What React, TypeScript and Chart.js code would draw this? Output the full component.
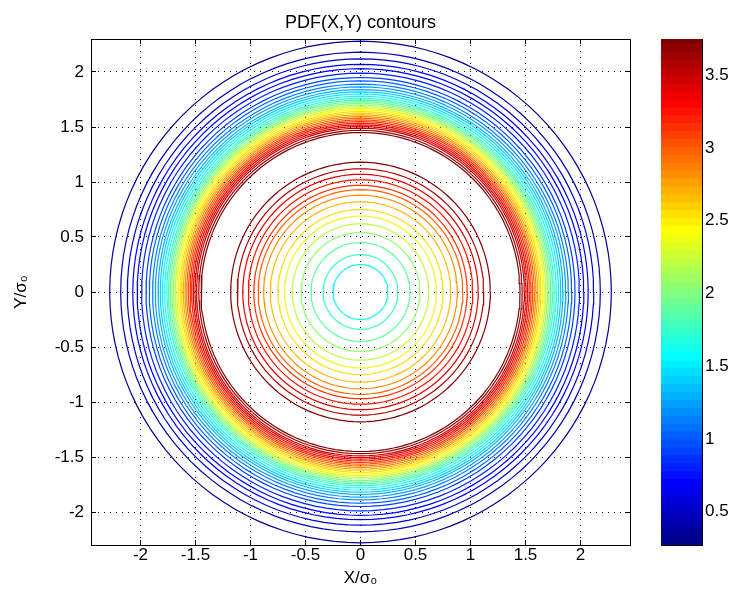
import React, { useEffect, useRef } from "react";
import { Chart, registerables } from "chart.js";

Chart.register(...registerables);

// ---------- data ----------
const TITLE = "PDF(X,Y) contours";
const X_LABEL = "X/σ₀";
const Y_LABEL = "Y/σ₀";
const X_TICKS = [-2, -1.5, -1, -0.5, 0, 0.5, 1, 1.5, 2];
const Y_TICKS = [-2, -1.5, -1, -0.5, 0, 0.5, 1, 1.5, 2];
const X_RANGE = [-2.45, 2.45];
const Y_RANGE = [-2.3, 2.3];
const CBAR_TICKS = [0.5, 1, 1.5, 2, 2.5, 3, 3.5];
const CBAR_RANGE = [0.27, 3.75];

// contour lines inside the ring maximum (level -> radius)
const INNER_LEVELS = [1.6, 1.75, 1.9, 2.05, 2.2, 2.35, 2.5, 2.65, 2.8, 2.95, 3.1, 3.25, 3.4, 3.55, 3.7];
const INNER_RADII = [0.25, 0.34, 0.45, 0.54, 0.62, 0.69, 0.75, 0.82, 0.88, 0.93, 0.97, 1.02, 1.07, 1.12, 1.18];

// contour lines outside the ring maximum (level -> radius)
const OUTER_LEVELS = [
  3.7, 3.6, 3.5, 3.4, 3.3, 3.2, 3.1, 3.0, 2.9, 2.8, 2.7, 2.6, 2.5, 2.4, 2.3, 2.2, 2.1, 2.0,
  1.9, 1.8, 1.7, 1.6, 1.5, 1.4, 1.3, 1.2, 1.1, 1.0, 0.9, 0.8, 0.7, 0.6, 0.5, 0.4, 0.3,
];
const OUTER_RADII = [
  1.45, 1.47, 1.49, 1.505, 1.52, 1.535, 1.55, 1.565, 1.58, 1.595, 1.61, 1.625, 1.64, 1.655, 1.67, 1.685, 1.7, 1.715,
  1.73, 1.745, 1.76, 1.78, 1.8, 1.82, 1.84, 1.865, 1.89, 1.92, 1.95, 1.99, 2.03, 2.07, 2.12, 2.18, 2.28,
];

// ---------- styling helpers ----------
const FONT = '"Liberation Sans", Arial, Helvetica, sans-serif';
const N_COLORS = 64;

function jet(i: number): string {
  // MATLAB jet(64), i = 1..64
  const u = (k: number) => (k <= 16 ? k / 16 : k <= 31 ? 1 : (48 - k) / 16);
  const r = i >= 25 ? u(i - 24) : 0;
  const g = i >= 9 && i <= 55 ? u(i - 8) : 0;
  const b = i <= 39 ? u(i + 8) : 0;
  return `rgb(${Math.round(r * 255)},${Math.round(g * 255)},${Math.round(b * 255)})`;
}

function levelColor(v: number): string {
  const t = (v - CBAR_RANGE[0]) / (CBAR_RANGE[1] - CBAR_RANGE[0]);
  const idx = Math.min(N_COLORS, Math.max(1, Math.floor(t * N_COLORS) + 1));
  return jet(idx);
}

const SEGMENTS = 120;
function circlePoints(r: number) {
  const pts: { x: number; y: number }[] = [];
  for (let k = 0; k <= SEGMENTS; k++) {
    const a = (2 * Math.PI * k) / SEGMENTS;
    pts.push({ x: r * Math.cos(a), y: r * Math.sin(a) });
  }
  return pts;
}

const gridBase = {
  color: "#000",
  lineWidth: 1,
  drawTicks: true,
  tickLength: -5,
  tickColor: "#000",
  tickWidth: 1,
};

export default function App() {
  const mainRef = useRef<HTMLCanvasElement>(null);
  const barRef = useRef<HTMLCanvasElement>(null);

  useEffect(() => {
    const tickFont = { family: FONT, size: 17 };
    const contourSets = [
      ...INNER_LEVELS.map((lv, i) => ({ lv, r: INNER_RADII[i] })),
      ...OUTER_LEVELS.map((lv, i) => ({ lv, r: OUTER_RADII[i] })),
    ].map(({ lv, r }) => ({
      label: `level ${lv}`,
      data: circlePoints(r),
      showLine: true,
      borderColor: levelColor(lv),
      backgroundColor: levelColor(lv),
      borderWidth: 1.2,
      pointRadius: 0,
      fill: false,
      tension: 0,
    }));

    const setXTicks = (s: any) => {
      s.ticks = X_TICKS.map((v) => ({ value: v }));
    };
    const setYTicks = (s: any) => {
      s.ticks = Y_TICKS.map((v) => ({ value: v }));
    };

    const main = new Chart(mainRef.current!, {
      type: "scatter",
      data: { datasets: contourSets as any },
      options: {
        animation: false,
        responsive: false,
        devicePixelRatio: 1,
        layout: { padding: 0 },
        plugins: {
          legend: { display: false },
          tooltip: { enabled: false },
          title: {
            display: true,
            fullSize: false,
            text: TITLE,
            color: "#000",
            font: { family: FONT, size: 18, weight: "normal" as any, lineHeight: 1.2 },
            padding: { top: 12, bottom: 5.4 },
          },
        },
        scales: {
          x: {
            type: "linear",
            position: "bottom",
            min: X_RANGE[0],
            max: X_RANGE[1],
            afterBuildTicks: setXTicks,
            afterFit: (s: any) => {
              s.height = 63;
            },
            ticks: { font: tickFont, color: "#000", padding: 5, maxRotation: 0, autoSkip: false, callback: (v: any) => String(v) },
            grid: { ...gridBase },
            border: { display: true, color: "#000", width: 1, dash: [1, 5] },
            title: { display: true, text: X_LABEL, color: "#000", font: tickFont, padding: { top: 0, bottom: 19 } },
          },
          x2: {
            type: "linear",
            position: "top",
            min: X_RANGE[0],
            max: X_RANGE[1],
            afterBuildTicks: setXTicks,
            afterFit: (s: any) => {
              s.height = 0;
            },
            ticks: { display: false },
            grid: { ...gridBase, drawOnChartArea: false },
            border: { display: true, color: "#000", width: 1 },
          },
          y: {
            type: "linear",
            position: "left",
            min: Y_RANGE[0],
            max: Y_RANGE[1],
            afterBuildTicks: setYTicks,
            afterFit: (s: any) => {
              s.width = 91;
            },
            ticks: { font: tickFont, color: "#000", padding: 12, autoSkip: false, callback: (v: any) => String(v) },
            grid: { ...gridBase },
            border: { display: true, color: "#000", width: 1, dash: [1, 5] },
            title: { display: true, text: Y_LABEL, color: "#000", font: tickFont, padding: { top: 11, bottom: 0 } },
          },
          y2: {
            type: "linear",
            position: "right",
            min: Y_RANGE[0],
            max: Y_RANGE[1],
            afterBuildTicks: setYTicks,
            afterFit: (s: any) => {
              s.width = 103;
            },
            ticks: { display: false },
            grid: { ...gridBase, drawOnChartArea: false },
            border: { display: true, color: "#000", width: 1 },
          },
        },
      },
    });

    // colorbar: 64 colour bands of the jet map over the colour range
    const step = (CBAR_RANGE[1] - CBAR_RANGE[0]) / N_COLORS;
    const bands = Array.from({ length: N_COLORS }, (_, k) => ({
      lo: CBAR_RANGE[0] + k * step,
      hi: Math.min(CBAR_RANGE[1], CBAR_RANGE[0] + (k + 1) * step + step * 0.3),
      color: jet(k + 1),
    }));

    const cbar = new Chart(barRef.current!, {
      type: "bar",
      data: {
        labels: ["c"],
        datasets: bands.map((b) => ({
          data: [[b.lo, b.hi]] as any,
          backgroundColor: b.color,
          borderWidth: 0,
          grouped: false,
          barPercentage: 1,
          categoryPercentage: 1,
        })) as any,
      },
      options: {
        animation: false,
        responsive: false,
        devicePixelRatio: 1,
        layout: { padding: 0 },
        plugins: { legend: { display: false }, tooltip: { enabled: false }, title: { display: false } },
        scales: {
          x: {
            type: "category",
            position: "bottom",
            afterFit: (s: any) => {
              s.height = 63;
            },
            ticks: { display: false },
            grid: { display: false },
            border: { display: true, color: "#000", width: 1 },
          },
          x2: {
            type: "category",
            position: "top",
            labels: ["c"],
            afterFit: (s: any) => {
              s.height = 39;
            },
            ticks: { display: false },
            grid: { display: false },
            border: { display: true, color: "#000", width: 1 },
          },
          y: {
            type: "linear",
            position: "right",
            min: CBAR_RANGE[0],
            max: CBAR_RANGE[1],
            afterBuildTicks: (s: any) => {
              s.ticks = CBAR_TICKS.map((v) => ({ value: v }));
            },
            afterFit: (s: any) => {
              s.width = 31;
            },
            ticks: { font: tickFont, color: "#000", padding: 8, autoSkip: false, callback: (v: any) => String(v) },
            grid: { ...gridBase, drawOnChartArea: false },
            border: { display: true, color: "#000", width: 1 },
          },
          y2: {
            type: "linear",
            position: "left",
            min: CBAR_RANGE[0],
            max: CBAR_RANGE[1],
            afterBuildTicks: (s: any) => {
              s.ticks = CBAR_TICKS.map((v) => ({ value: v }));
            },
            afterFit: (s: any) => {
              s.width = 21;
            },
            ticks: { display: false },
            grid: { ...gridBase, drawOnChartArea: false },
            border: { display: true, color: "#000", width: 1 },
          },
        },
      },
    });

    return () => {
      main.destroy();
      cbar.destroy();
    };
  }, []);

  return (
    <div style={{ position: "fixed", left: 0, top: 0, width: 733, height: 608, background: "#fff" }}>
      <canvas ref={mainRef} width={733} height={608} style={{ position: "absolute", left: 0, top: 0, width: 733, height: 608 }} />
      <canvas ref={barRef} width={93} height={608} style={{ position: "absolute", left: 640, top: 0, width: 93, height: 608 }} />
    </div>
  );
}
